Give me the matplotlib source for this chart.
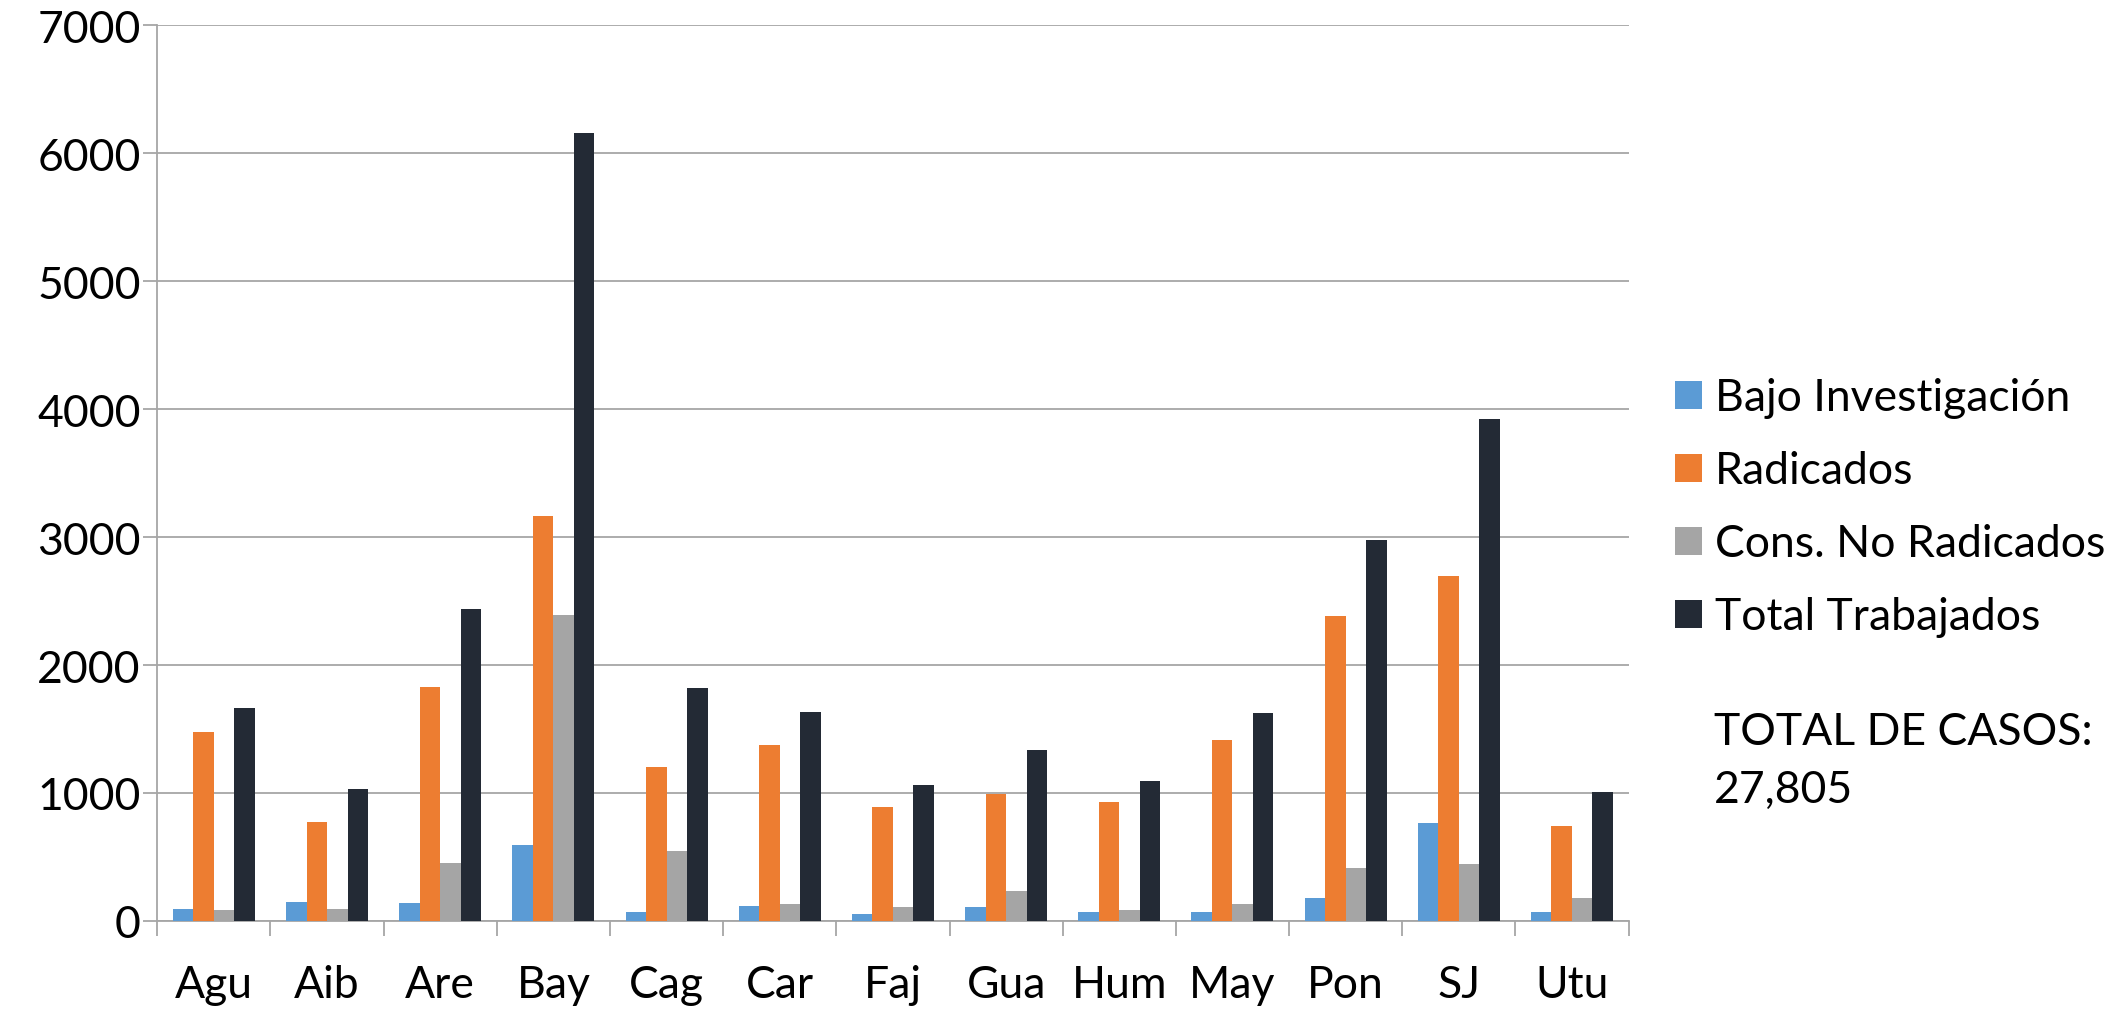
import matplotlib
matplotlib.use("Agg")
import matplotlib.pyplot as plt
import numpy as np

plt.rcParams['font.family'] = ['Lato', 'DejaVu Sans']

# Data
regiones = ['Agu', 'Aib', 'Are', 'Bay', 'Cag', 'Car', 'Faj', 'Gua', 'Hum', 'May', 'Pon', 'SJ', 'Utu']
bajo_investigacion = [96, 146, 141, 590, 66, 116, 55, 106, 66, 66, 182, 767, 71]
radicados = [1473, 772, 1826, 3167, 1200, 1377, 893, 993, 933, 1417, 2380, 2698, 741]
cons_no_radicados = [86, 96, 454, 2395, 550, 136, 106, 232, 86, 136, 414, 444, 182]
total_trabajados = [1664, 1029, 2441, 6157, 1820, 1634, 1059, 1336, 1094, 1624, 2980, 3923, 1004]

series = [
    ('Bajo Investigación', bajo_investigacion, '#5B9BD5'),
    ('Radicados', radicados, '#ED7D31'),
    ('Cons. No Radicados', cons_no_radicados, '#A5A5A5'),
    ('Total Trabajados', total_trabajados, '#232A35'),
]
total_casos = '27,805'
fs = 32

fig = plt.figure(figsize=(21.26, 10.12), dpi=100)
ax = fig.add_axes([0.074, 0.089, 0.692, 0.885])

x = np.arange(len(regiones))
w = 0.181
for i, (name, vals, col) in enumerate(series):
    ax.bar(x + (i - 1.5) * w, vals, width=w, color=col, label=name, zorder=3)

ax.set_xlim(-0.5, len(regiones) - 0.5)
ax.set_ylim(0, 7000)
ax.set_yticks(range(0, 7001, 1000))
ax.grid(axis='y', color='#A6A6A6', linewidth=1.3, zorder=0)

ax.set_xticks(x)
ax.set_xticklabels(regiones)
ax.set_xticks(np.arange(-0.5, len(regiones), 1.0), minor=True)
ax.tick_params(axis='x', which='major', length=0, pad=31, labelsize=fs)
ax.tick_params(axis='x', which='minor', length=11, width=1.3, color='#A6A6A6')
ax.tick_params(axis='y', length=10, width=1.3, color='#A6A6A6', labelsize=fs, pad=2)

for s in ['top', 'right']:
    ax.spines[s].set_visible(False)
for s in ['left', 'bottom']:
    ax.spines[s].set_color('#A6A6A6')
    ax.spines[s].set_linewidth(1.3)

fig.legend(loc='upper left', bbox_to_anchor=(0.788, 0.626), frameon=False,
           fontsize=fs, handlelength=0.6, handleheight=0.6,
           handletextpad=0.3, labelspacing=0.72, borderpad=0, borderaxespad=0)

fig.text(0.806, 0.276, 'TOTAL DE CASOS:', fontsize=fs, va='center', ha='left')
fig.text(0.806, 0.219, total_casos, fontsize=fs, va='center', ha='left')

fig.savefig('out.png', dpi=100, facecolor='white')
